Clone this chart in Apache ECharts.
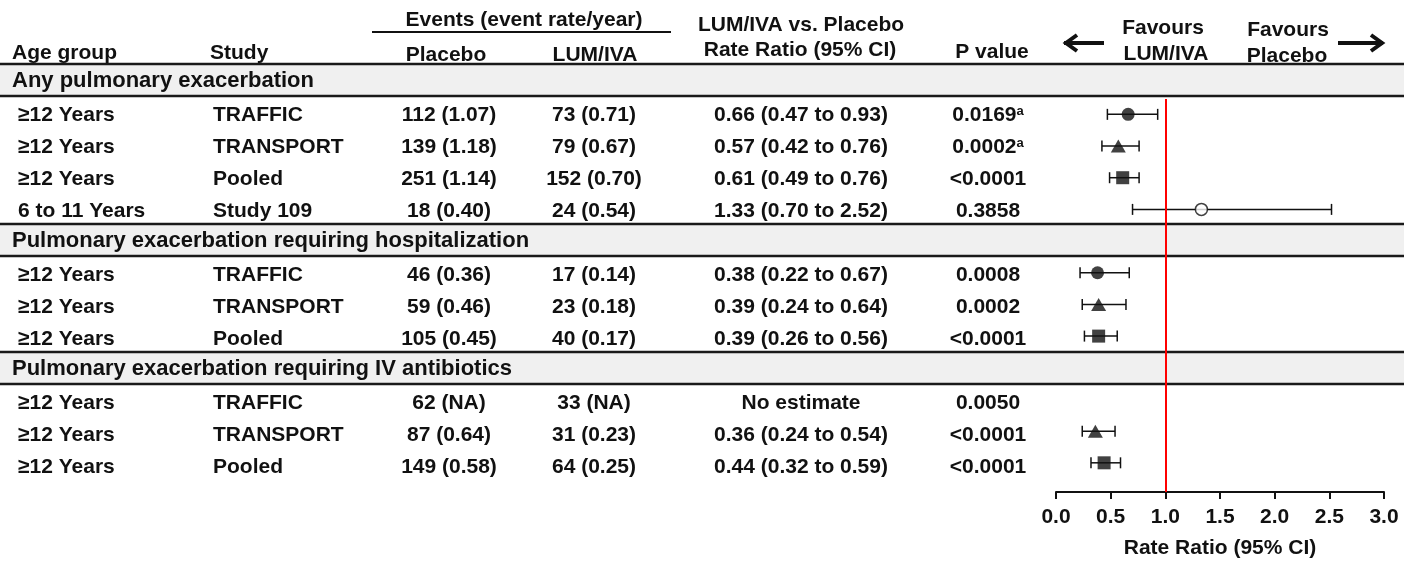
<!DOCTYPE html>
<html><head><meta charset="utf-8">
<script src="https://cdn.jsdelivr.net/npm/echarts@6/dist/echarts.min.js"></script>
<style>html,body{margin:0;padding:0;background:#fff}#c{width:1404px;height:564px}</style>
</head><body><div id="c"></div>
<script>
// ---------------- data ----------------
const sections = ['Any pulmonary exacerbation', 'Pulmonary exacerbation requiring hospitalization', 'Pulmonary exacerbation requiring IV antibiotics'];
const rowSection = [0, 0, 0, 0, 1, 1, 1, 2, 2, 2];
const ageGroups = ['≥12 Years', '≥12 Years', '≥12 Years', '6 to 11 Years', '≥12 Years', '≥12 Years', '≥12 Years', '≥12 Years', '≥12 Years', '≥12 Years'];
const studies = ['TRAFFIC', 'TRANSPORT', 'Pooled', 'Study 109', 'TRAFFIC', 'TRANSPORT', 'Pooled', 'TRAFFIC', 'TRANSPORT', 'Pooled'];
const placeboEvents = ['112 (1.07)', '139 (1.18)', '251 (1.14)', '18 (0.40)', '46 (0.36)', '59 (0.46)', '105 (0.45)', '62 (NA)', '87 (0.64)', '149 (0.58)'];
const lumivaEvents = ['73 (0.71)', '79 (0.67)', '152 (0.70)', '24 (0.54)', '17 (0.14)', '23 (0.18)', '40 (0.17)', '33 (NA)', '31 (0.23)', '64 (0.25)'];
const rateRatio = [0.66, 0.57, 0.61, 1.33, 0.38, 0.39, 0.39, null, 0.36, 0.44];
const ciLow = [0.47, 0.42, 0.49, 0.70, 0.22, 0.24, 0.26, null, 0.24, 0.32];
const ciHigh = [0.93, 0.76, 0.76, 2.52, 0.67, 0.64, 0.56, null, 0.54, 0.59];
const pValues = ['0.0169', '0.0002', '<0.0001', '0.3858', '0.0008', '0.0002', '<0.0001', '0.0050', '<0.0001', '<0.0001'];
const pFootnote = ['a', 'a', '', '', '', '', '', '', '', ''];
const markerType = ['filledCircle', 'filledTriangle', 'filledSquare', 'openCircle', 'filledCircle', 'filledTriangle', 'filledSquare', 'filledCircle', 'filledTriangle', 'filledSquare'];
const axisTicks = [0, 0.5, 1, 1.5, 2, 2.5, 3];
const referenceValue = 1;
const noEstimateText = 'No estimate';

// ---------------- layout & style ----------------
const TXT = '#111111';
const FONT = "'Liberation Sans', Arial, Helvetica, sans-serif";
const FS = 21;
const FS_SECTION = 22;
const L = {
  W: 1404, tableTop: 64, slotH: 32, axisY: 497, refTop: 100,
  sectionX: 12, colAge: 18, colStudy: 213, colPlacebo: 449, colLum: 594, colCI: 801, colP: 988,
  forestLeft: 1056, forestWidth: 328, rowShift: 0.11
};
const yMin = -L.tableTop / L.slotH;
const yMax = (L.axisY - L.tableTop) / L.slotH;

// slots: each section header takes one slot, then its rows
const sectionSlot = [];
const rowSlot = [];
let slot = 0;
sections.forEach((name, k) => {
  sectionSlot.push(slot); slot++;
  rowSection.forEach((sec, i) => { if (sec === k) { rowSlot[i] = slot; slot++; } });
});
const rowY = i => rowSlot[i] + 0.5 + L.rowShift;

const fmt = v => v.toFixed(2);
const ciText = i => rateRatio[i] == null ? noEstimateText : `${fmt(rateRatio[i])} (${fmt(ciLow[i])} to ${fmt(ciHigh[i])})`;

function txt(x, y, text, align, size) {
  return {
    type: 'text', x: x, y: y,
    style: { text: text, fill: TXT, fontFamily: FONT, fontSize: size || FS, fontWeight: 'bold', align: align, verticalAlign: 'middle' }
  };
}

// section bands
function renderSection(params, api) {
  const k = api.value(0);
  const s = api.value(1);
  const p0 = api.coord([0, s]);
  const p1 = api.coord([L.W, s + 1]);
  const pm = api.coord([L.sectionX, s + 0.5]);
  return {
    type: 'group', children: [
      { type: 'rect', shape: { x: p0[0], y: p0[1], width: p1[0] - p0[0], height: p1[1] - p0[1] }, style: { fill: '#f0f0f0' } },
      { type: 'line', shape: { x1: p0[0], y1: p0[1], x2: p1[0], y2: p0[1] }, style: { stroke: '#1a1a1a', lineWidth: 2.5 } },
      { type: 'line', shape: { x1: p0[0], y1: p1[1], x2: p1[0], y2: p1[1] }, style: { stroke: '#1a1a1a', lineWidth: 2.5 } },
      txt(pm[0], pm[1] + 1, sections[k], 'left', FS_SECTION)
    ]
  };
}

// table rows
function renderRow(params, api) {
  const i = api.value(0);
  const y = api.value(1);
  const c = x => api.coord([x, y]);
  const kids = [];
  let p = c(L.colAge); kids.push(txt(p[0], p[1], ageGroups[i], 'left'));
  p = c(L.colStudy); kids.push(txt(p[0], p[1], studies[i], 'left'));
  p = c(L.colPlacebo); kids.push(txt(p[0], p[1], placeboEvents[i], 'center'));
  p = c(L.colLum); kids.push(txt(p[0], p[1], lumivaEvents[i], 'center'));
  p = c(L.colCI); kids.push(txt(p[0], p[1], ciText(i), 'center'));
  p = c(L.colP);
  const t = txt(p[0], p[1], '{n|' + pValues[i] + '}' + (pFootnote[i] ? '{s|' + pFootnote[i] + '}' : ''), 'center');
  t.style.rich = {
    n: { fontFamily: FONT, fontSize: FS, fontWeight: 'bold', fill: TXT, lineHeight: 22 },
    s: { fontFamily: FONT, fontSize: 13, fontWeight: 'bold', fill: TXT, verticalAlign: 'top', lineHeight: 13 }
  };
  kids.push(t);
  return { type: 'group', children: kids };
}

// error bars
function renderCI(params, api) {
  const y = api.value(2);
  const a = api.coord([api.value(0), y]);
  const b = api.coord([api.value(1), y]);
  const h = 5.5;
  const st = { stroke: TXT, lineWidth: 1.5 };
  return {
    type: 'group', children: [
      { type: 'line', shape: { x1: a[0], y1: a[1], x2: b[0], y2: b[1] }, style: st },
      { type: 'line', shape: { x1: a[0], y1: a[1] - h, x2: a[0], y2: a[1] + h }, style: st },
      { type: 'line', shape: { x1: b[0], y1: b[1] - h, x2: b[0], y2: b[1] + h }, style: st }
    ]
  };
}

const markerStyle = {
  filledCircle: { symbol: 'circle', symbolSize: 13, itemStyle: { color: TXT } },
  filledTriangle: { symbol: 'triangle', symbolSize: [15, 13], itemStyle: { color: TXT } },
  filledSquare: { symbol: 'rect', symbolSize: 13, itemStyle: { color: TXT } },
  openCircle: { symbol: 'circle', symbolSize: 12, itemStyle: { color: '#ffffff', borderColor: TXT, borderWidth: 1.5 } }
};

const pointData = [];
const ciData = [];
rateRatio.forEach((v, i) => {
  if (v == null) return;
  pointData.push(Object.assign({ value: [v, rowY(i)] }, markerStyle[markerType[i]]));
  ciData.push([ciLow[i], ciHigh[i], rowY(i)]);
});

// header graphics
const headers = [
  ['Events (event rate/year)', 524, 20, 'center'],
  ['Age group', 12, 53, 'left'],
  ['Study', 210, 53, 'left'],
  ['Placebo', 446, 55, 'center'],
  ['LUM/IVA', 595, 55, 'center'],
  ['LUM/IVA vs. Placebo', 801, 25, 'center'],
  ['Rate Ratio (95% CI)', 800, 50, 'center'],
  ['P value', 992, 52, 'center'],
  ['Favours', 1163, 28, 'center'],
  ['LUM/IVA', 1166, 54, 'center'],
  ['Favours', 1288, 30, 'center'],
  ['Placebo', 1287, 56, 'center']
];
const graphics = headers.map(h => txt(h[1], h[2], h[0], h[3]));
graphics.push({ type: 'line', shape: { x1: 372, y1: 32, x2: 671, y2: 32 }, style: { stroke: TXT, lineWidth: 2 } });
const arrowStyle = { stroke: TXT, lineWidth: 4, fill: null, lineCap: 'butt', lineJoin: 'miter' };
graphics.push({ type: 'polyline', shape: { points: [[1064, 43], [1104, 43]] }, style: arrowStyle });
graphics.push({ type: 'polyline', shape: { points: [[1077, 35], [1066, 43], [1077, 51]] }, style: arrowStyle });
graphics.push({ type: 'polyline', shape: { points: [[1338, 43], [1383, 43]] }, style: arrowStyle });
graphics.push({ type: 'polyline', shape: { points: [[1371, 35], [1382, 43], [1371, 51]] }, style: arrowStyle });

const yAxisCommon = { type: 'value', inverse: true, min: yMin, max: yMax, show: false };

const option = {
  animation: false,
  backgroundColor: '#ffffff',
  grid: [
    { left: 0, top: 0, width: L.W, height: L.axisY },
    { left: L.forestLeft, top: 0, width: L.forestWidth, height: L.axisY }
  ],
  xAxis: [
    { type: 'value', gridIndex: 0, min: 0, max: L.W, show: false },
    {
      type: 'value', gridIndex: 1, min: axisTicks[0], max: axisTicks[axisTicks.length - 1],
      interval: axisTicks[1] - axisTicks[0],
      axisLine: { show: true, onZero: false, lineStyle: { color: TXT, width: 2 } },
      axisTick: { show: true, inside: false, length: 7, lineStyle: { color: TXT, width: 2 } },
      splitLine: { show: false },
      axisLabel: { show: true, margin: 15, color: TXT, fontFamily: FONT, fontSize: FS, fontWeight: 'bold', formatter: v => v.toFixed(1), showMinLabel: true, showMaxLabel: true },
      name: 'Rate Ratio (95% CI)', nameLocation: 'middle', nameGap: 46,
      nameTextStyle: { color: TXT, fontFamily: FONT, fontSize: FS, fontWeight: 'bold' }
    }
  ],
  yAxis: [
    Object.assign({ gridIndex: 0 }, yAxisCommon),
    Object.assign({ gridIndex: 1 }, yAxisCommon)
  ],
  series: [
    {
      type: 'custom', xAxisIndex: 0, yAxisIndex: 0, renderItem: renderSection, silent: true, z: 1,
      data: sections.map((s, k) => [k, sectionSlot[k]])
    },
    {
      type: 'custom', xAxisIndex: 0, yAxisIndex: 0, renderItem: renderRow, silent: true, z: 2,
      data: ageGroups.map((a, i) => [i, rowY(i)])
    },
    {
      type: 'custom', xAxisIndex: 1, yAxisIndex: 1, renderItem: renderCI, silent: true, z: 3, clip: false,
      data: ciData
    },
    {
      type: 'scatter', xAxisIndex: 1, yAxisIndex: 1, z: 4, silent: true, data: pointData,
      markLine: {
        silent: true, symbol: ['none', 'none'], label: { show: false },
        lineStyle: { color: '#ff0000', width: 2, type: 'solid' },
        data: [[{ coord: [referenceValue, (L.refTop - L.tableTop) / L.slotH] }, { coord: [referenceValue, yMax] }]]
      }
    }
  ],
  graphic: graphics
};

const chart = echarts.init(document.getElementById('c'), null, { renderer: 'canvas' });
chart.setOption(option);
</script>
</body></html>
